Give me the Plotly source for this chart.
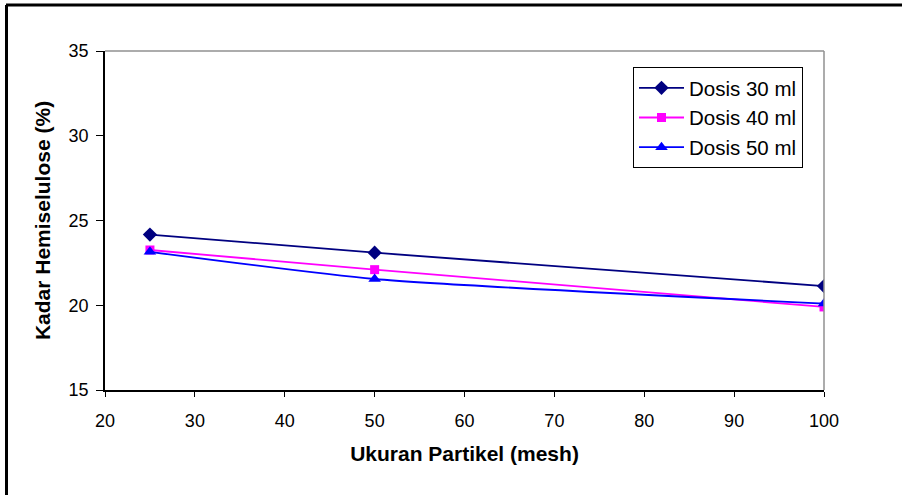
import plotly.graph_objects as go

x_mesh = [25, 50, 100]
dosis_30 = [24.17, 23.1, 21.13]
dosis_40 = [23.26, 22.1, 19.9]
dosis_50 = [23.15, 21.55, 20.1]
series_names = ["Dosis 30 ml", "Dosis 40 ml", "Dosis 50 ml"]

fig = go.Figure()
specs = [
    (dosis_30, "#000080", "diamond", 11),
    (dosis_40, "#FF00FF", "square", 9),
    (dosis_50, "#0000FF", "triangle-up", 11),
]
for name, (vals, col, sym, sz) in zip(series_names, specs):
    fig.add_trace(go.Scatter(
        x=x_mesh, y=vals, name=name, mode="lines+markers",
        line=dict(color=col, width=1.8, shape="spline", smoothing=0.6),
        marker=dict(color=col, symbol=sym, size=sz),
    ))

font = "Liberation Sans, Arial, sans-serif"
fig.update_layout(
    width=902, height=495,
    margin=dict(l=105, r=78, t=51, b=105),
    paper_bgcolor="white", plot_bgcolor="white",
    font=dict(family=font, size=18, color="black"),
    showlegend=True,
    legend=dict(
        x=(633 - 105) / 719, y=(390 - 67) / 339, xanchor="left", yanchor="top",
        bordercolor="black", borderwidth=1, bgcolor="white",
        font=dict(size=20.5), tracegroupgap=0, itemwidth=45,
    ),
    xaxis=dict(
        range=[20, 100], dtick=10, showgrid=False, zeroline=False,
        showline=True, linecolor="black", linewidth=1.5,
        ticks="outside", ticklen=5, tickcolor="black", ticklabelstandoff=9,
        title=dict(text="<b>Ukuran Partikel (mesh)</b>", font=dict(size=21), standoff=16),
        tickfont=dict(size=18),
    ),
    yaxis=dict(
        range=[15, 35], dtick=5, showgrid=False, zeroline=False,
        showline=True, linecolor="black", linewidth=1.5,
        ticks="outside", ticklen=7, tickcolor="black", ticklabelstandoff=4,
        title=dict(text="<b>Kadar Hemiselulose (%)</b>", font=dict(size=21), standoff=12),
        tickfont=dict(size=18),
    ),
    shapes=[
        dict(type="line", xref="paper", yref="paper", x0=0, x1=1, y0=1, y1=1,
             line=dict(color="#909090", width=1.5)),
        dict(type="line", xref="paper", yref="paper", x0=1, x1=1, y0=0, y1=1,
             line=dict(color="#909090", width=1.5)),
        dict(type="line", xref="paper", yref="paper",
             x0=-99/719, x1=1 + 80/719, y0=(390 - 5) / 339, y1=(390 - 5) / 339,
             line=dict(color="black", width=3)),
        dict(type="line", xref="paper", yref="paper",
             x0=-98.5/719, x1=-98.5/719, y0=(390 - 5) / 339, y1=-110/339,
             line=dict(color="black", width=3)),
    ],
)

fig.write_html("out.html")
